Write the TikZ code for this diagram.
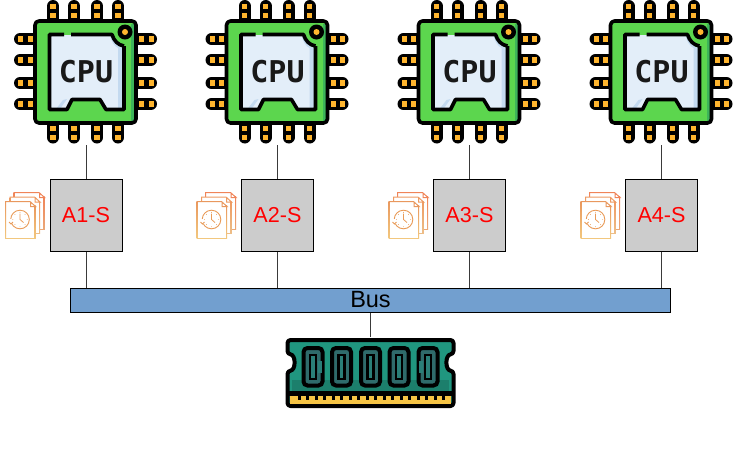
\documentclass[tikz,border=0pt]{standalone}
\usepackage{fontspec}
\setmainfont{Liberation Sans}
\newfontfamily\cpufont[BoldFont={DejaVu Sans Mono Bold}]{DejaVu Sans Mono}
\definecolor{cpugreen}{HTML}{5CD64E}
\definecolor{cpudark}{HTML}{3DB45A}
\definecolor{panel}{HTML}{E3EEF9}
\definecolor{panelshade}{HTML}{C4DAF0}
\definecolor{pinorange}{HTML}{FFB52E}
\definecolor{busblue}{HTML}{729FCF}
\definecolor{boxgray}{HTML}{CCCCCC}
\definecolor{ramgreen}{HTML}{20967F}
\definecolor{ramdark}{HTML}{1C7F6C}
\definecolor{chipteal}{HTML}{2F6B6B}
\definecolor{chiplight}{HTML}{2A7F78}
\definecolor{ramyellow}{HTML}{F6C445}
\definecolor{linkgray}{HTML}{3A3A3A}
\definecolor{doca}{HTML}{F08458}
\definecolor{docb}{HTML}{EBA878}
\definecolor{docc}{HTML}{EE9A62}
\definecolor{docd}{HTML}{EDBE88}
\definecolor{doce}{HTML}{E9985E}
\definecolor{docf}{HTML}{F2C77E}
\definecolor{clockline}{HTML}{E99B58}
\tikzset{
  x=1pt,y=-1pt,
  link/.style={draw=linkgray,line width=0.8pt},
  busbox/.style={draw=black,line width=0.8pt,fill=busblue,minimum width=600pt,minimum height=24pt,inner sep=0pt},
  sbox/.style={draw=black,line width=0.8pt,fill=boxgray,minimum width=72pt,minimum height=72pt,inner sep=0pt,text=red,font=\fontsize{21.6}{24}\selectfont},
  pinline/.style={line width=12pt,line cap=round,draw=black},
  thick icon/.style={draw=black,line width=3.6pt,line join=round},
  cputext/.style={inner sep=0pt,font=\cpufont\bfseries\fontsize{30}{30}\selectfont,text=black!90},
}
% one sheet of the stack of documents
\newcommand{\docsheet}[6]{%
  \fill[white] (#1,#2) -- (#3-5,#2) -- (#3,#2+5) -- (#3,#4) -- (#1,#4) -- cycle;
  \shade[top color=#5,bottom color=#6] (#1-.5,#2) rectangle (#1+.5,#4);
  \shade[top color=#5,bottom color=#6] (#3-.5,#2+4) rectangle (#3+.5,#4);
  \draw[#5,line width=1pt] (#1-.5,#2) -- (#3-5,#2) -- (#3+.5,#2+5) -- (#3-4.5,#2+5) -- (#3-4.5,#2);
  \draw[#6,line width=1pt] (#1-.5,#4) -- (#3+.5,#4);
}
\newcommand{\docicon}{%
  \docsheet{14}{192.5}{44}{229}{doca}{docb}
  \docsheet{10}{197}{39.5}{233.5}{docc}{docd}
  \docsheet{5.5}{201.5}{35}{238}{doce}{docf}
  \draw[clockline,line width=.9pt] (20,219.5) circle[radius=9.3];
  \draw[clockline,line width=.8pt] (20,213.5) -- (20,219.5) -- (23.5,222.5);
  \foreach \t in {0,45,...,315} \fill[clockline] (20,219.5) ++(\t:7.2) circle[radius=.45];
  \fill[white] (9,219) rectangle (12,224);
  \draw[clockline,line width=1pt] (9,222) -- (11,224) -- (13,222);
}
\newcommand{\cpuicon}{%
  \foreach \p in {53,74,97,118}{
    \draw[pinline] (\p,6) -- (\p,20);
    \draw[pinline] (\p,124) -- (\p,137.5);
    \fill[pinorange] (\p-2.7,3.5) rectangle (\p+2.7,8.5);
    \fill[pinorange] (\p-2.7,13) rectangle (\p+2.7,18);
    \fill[pinorange] (\p-2.7,125.5) rectangle (\p+2.7,130.5);
    \fill[pinorange] (\p-2.7,135) rectangle (\p+2.7,140);
  }
  \foreach \p in {39,60,83,104}{
    \draw[pinline] (20,\p) -- (34,\p);
    \draw[pinline] (137,\p) -- (151,\p);
    \fill[pinorange] (18,\p-2.7) rectangle (23,\p+2.7);
    \fill[pinorange] (27.5,\p-2.7) rectangle (32.5,\p+2.7);
    \fill[pinorange] (139,\p-2.7) rectangle (144,\p+2.7);
    \fill[pinorange] (148.5,\p-2.7) rectangle (153.5,\p+2.7);
  }
  \fill[cpugreen,rounded corners=4pt] (35,21) rectangle (136,123);
  \fill[cpudark] (131,24) rectangle (136,121);
  \draw[thick icon,rounded corners=4pt] (35,21) rectangle (136,123);
  \fill[panel] (50,35) -- (113,35) .. controls (115,43) and (118,47) .. (123,48) -- (123,109) -- (106,109) -- (100,99) -- (72,99) -- (67,109) -- (50,109) -- cycle;
  \fill[panelshade] (110,36) .. controls (112,42) and (114,46) .. (118,48) -- (118,109) -- (123,109) -- (123,48) .. controls (118,47) and (115,43) .. (113,35) -- cycle;
  \fill[panelshade] (56,109) -- (60,109) -- (67,99) -- (63,100) -- cycle;
  \draw[thick icon] (64,34.5) -- (49.5,34.5) -- (49.5,109.5) -- (67,109.5) -- (72,99.5) -- (100,99.5) -- (106,109.5) -- (124,109.5) -- (124,46);
  \draw[thick icon] (71,34.5) -- (112,34.5) .. controls (114,41) and (118,45) .. (124,46);
  \fill[black] (125,32) circle[radius=7.5];
  \fill[pinorange] (125,32) circle[radius=3];
}
\begin{document}
\begin{tikzpicture}
\useasboundingbox (0,0) rectangle (733,459);
% bus
\node[busbox] (bus) at (370.5,300.5) {};
\node[inner sep=0pt,font=\fontsize{23.5}{24}\selectfont] (buslabel) at (370.5,300) {Bus};
% four processor columns
\foreach \i/\dx in {1/0,2/191.5,3/383.5,4/575.5}{
  \begin{scope}[shift={(\dx,0)}]
    \cpuicon
    \node[cputext] (cpu\i) at (86,71.5) {CPU};
    \coordinate (cpupin\i) at (86,145);
    \docicon
    \node[sbox] (a\i) at (86,215.5) {A\i-S};
    \draw[link] (cpupin\i) -- (a\i.north);
    \draw[link] (a\i.south) -- (a\i.south |- bus.north);
  \end{scope}
}
% memory module
\coordinate (ramtop) at (370.5,337);
\draw[link] (ramtop |- bus.south) -- (ramtop);
\draw[thick icon,line width=4pt,fill=ramgreen,rounded corners=3pt] (287.5,340) -- (453.5,340) -- (453.5,354) .. controls (445,355) and (445,370) .. (453.5,371) -- (453.5,406) -- (287.5,406) -- (287.5,371) .. controls (296,370) and (296,355) .. (287.5,354) -- cycle;
\fill[ramdark] (292,380) rectangle (449,391);
\fill[black] (288,391) rectangle (453,396);
\fill[ramyellow] (290,396) rectangle (451,403.5);
\foreach \k in {0,...,17} \fill[black] (299+\k*8.5-1.5,396) rectangle (299+\k*8.5+1.5,400);
\foreach \cx in {313,341.5,370.5,399,428}{
  \draw[line width=4pt,draw=black,fill=chipteal,rounded corners=4pt] (\cx-9.5,348) rectangle (\cx+9.5,385.5);
  \draw[line width=2.6pt,draw=black,fill=chiplight] (\cx-3,355) rectangle (\cx+3,379);
}
% the end chips open sideways
\fill[chiplight] (318,361) rectangle (322,373);
\fill[chiplight] (419,361) rectangle (423,373);
\end{tikzpicture}
\end{document}
